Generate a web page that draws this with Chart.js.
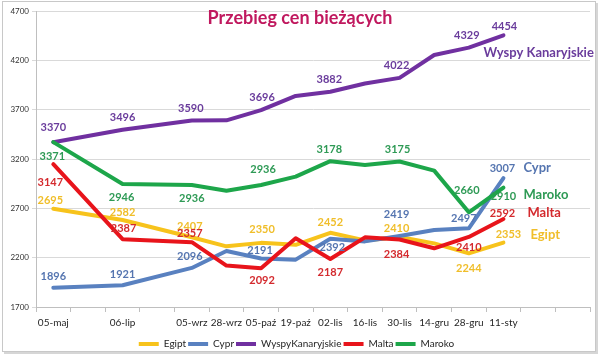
<!DOCTYPE html>
<html>
<head>
<meta charset="utf-8">
<script src="https://cdn.jsdelivr.net/npm/chart.js@4"></script>
<style>
  html, body { margin: 0; padding: 0; background: #ffffff; }
  #frame { position: absolute; left: 2px; top: 1px; width: 592px; height: 349px;
           border: 1px solid #c8c8c8; box-shadow: 2px 2px 0 #d6d6d6; background: #fff; }
  canvas { display: block; }
</style>
</head>
<body>
<div id="frame"><canvas id="c" width="592" height="349"></canvas></div>
<script>
const categories = ['05-maj','','06-lip','','05-wrz','28-wrz','05-paź','19-paź','02-lis','16-lis','30-lis','14-gru','28-gru','11-sty','',''];
const egipt  = [2695,null,2582,null,2407,2315,2350,2330,2452,2375,2410,2345,2244,2353,null,null];
const cypr   = [1896,null,1921,null,2096,2268,2191,2180,2392,2365,2419,2480,2497,3007,null,null];
const wyspy  = [3370,null,3496,null,3590,3592,3696,3839,3882,3965,4022,4254,4329,4454,null,null];
const malta  = [3147,null,2387,null,2357,2120,2092,2396,2187,2406,2384,2295,2410,2592,null,null];
const maroko = [3371,null,2946,null,2936,2879,2936,3021,3178,3139,3175,3082,2660,2910,null,null];
const seriesNames = ['Egipt','Cypr','Wyspy Kanaryjskie','Malta','Maroko'];
const chartTitle = 'Przebieg cen bieżących';
const yMin = 1700, yMax = 4700, yStep = 500;

const FONT = 'Lato, "Open Sans", sans-serif';
const PLOT_BOTTOM = 305;
const BOTTOM_PAD = -8;

function ds(label, data, color, labelColor, order, valueLabels, nameOffset, legendLabel) {
  return {
    label: legendLabel || label, data, borderColor: color, backgroundColor: color,
    borderWidth: 4, pointRadius: 0, pointHoverRadius: 0, tension: 0, spanGaps: true,
    fill: false, borderJoinStyle: 'round', borderCapStyle: 'round',
    order, labelColor, valueLabels, seriesName: label, nameOffset
  };
}

const datasets = [
  ds(seriesNames[0], egipt, '#F7C31C', '#F0BE2A', 4,
     {0:[-3,-8],2:[0,-8],4:[-2,-11],6:[1,-13],8:[0,-10],10:[-3,-8],12:[0,15],13:[5,-8]},
     [27,-8]),
  ds(seriesNames[1], cypr, '#5981C0', '#5575B0', 3,
     {0:[0,-11],2:[0,-11],4:[-2,-11],6:[-1,-8],8:[2,9],10:[-3,-22],12:[-5,-10],13:[-1,-10]},
     [20,-10]),
  ds(seriesNames[2], wyspy, '#7030A0', '#6A3C9C', 2,
     {0:[0,-15],2:[0,-12],4:[-1,-12],6:[1,-13],8:[-1,-12],10:[-3,-12],12:[-2,-12],13:[1,-9]},
     [-20,18], 'WyspyKanaryjskie'),
  ds(seriesNames[3], malta, '#E8141B', '#D42A2E', 1,
     {0:[-3,18],2:[1,-11],4:[-2,-9],6:[1,12],8:[0,14],10:[-3,15],12:[0,11],13:[-1,-6]},
     [24,-6]),
  ds(seriesNames[4], maroko, '#1DA64A', '#2E9A55', 0,
     {0:[-1,14],2:[-1,13],4:[0,13],6:[2,-16],8:[-1,-12],10:[-2,-12],12:[-2,-22],13:[0,9]},
     [20,7])
];

const labelPlugin = {
  id: 'valueLabels',
  afterDatasetsDraw(chart) {
    const ctx = chart.ctx;
    ctx.save();
    ctx.textBaseline = 'middle';
    chart.data.datasets.forEach((d, di) => {
      const meta = chart.getDatasetMeta(di);
      ctx.fillStyle = d.labelColor;
      ctx.font = 'bold 11px ' + FONT;
      ctx.textAlign = 'center';
      for (const [k, off] of Object.entries(d.valueLabels)) {
        const el = meta.data[+k];
        ctx.fillText(String(d.data[+k]), el.x + off[0], el.y + off[1]);
      }
      let last = -1;
      d.data.forEach((v, i) => { if (v !== null) last = i; });
      const el = meta.data[last];
      ctx.font = 'bold 13px ' + FONT;
      ctx.textAlign = 'left';
      ctx.fillText(d.seriesName, el.x + d.nameOffset[0], el.y + d.nameOffset[1]);
    });
    ctx.font = 'bold 18px ' + FONT;
    ctx.fillStyle = '#C0185E';
    ctx.textAlign = 'center';
    ctx.fillText(chartTitle, 297, 16);
    ctx.restore();
  }
};

new Chart(document.getElementById('c'), {
  type: 'line',
  data: { labels: categories, datasets },
  plugins: [labelPlugin],
  options: {
    responsive: false,
    animation: false,
    layout: { padding: { top: 9, right: 5, left: 0, bottom: BOTTOM_PAD } },
    plugins: {
      title: { display: false },
      tooltip: { enabled: false },
      legend: {
        position: 'bottom',
        labels: {
          usePointStyle: true, pointStyle: 'line', pointStyleWidth: 20,
          font: { family: FONT, size: 10 }, color: '#262626', padding: 2,
          sort: (a, b) => a.datasetIndex - b.datasetIndex
        }
      }
    },
    scales: {
      x: {
        type: 'category', offset: true,
        grid: { offset: true, drawOnChartArea: false, tickLength: 5, color: '#bfbfbf' },
        border: { color: '#bfbfbf' },
        ticks: { autoSkip: false, maxRotation: 0, font: { family: FONT, size: 10 }, color: '#262626', padding: 5 },
        afterFit: s => {
          const lh = s.chart.legend ? s.chart.legend.height : 0;
          s.height = Math.max(10, 349 - BOTTOM_PAD - PLOT_BOTTOM - lh);
        }
      },
      y: {
        min: yMin, max: yMax,
        grid: { color: '#d9d9d9', tickLength: 4 },
        border: { color: '#bfbfbf' },
        ticks: { stepSize: yStep, font: { family: FONT, size: 8 }, color: '#333', padding: 3,
                 callback: v => String(v) },
        afterFit: s => { s.width = 33; }
      }
    }
  }
});
</script>
</body>
</html>
